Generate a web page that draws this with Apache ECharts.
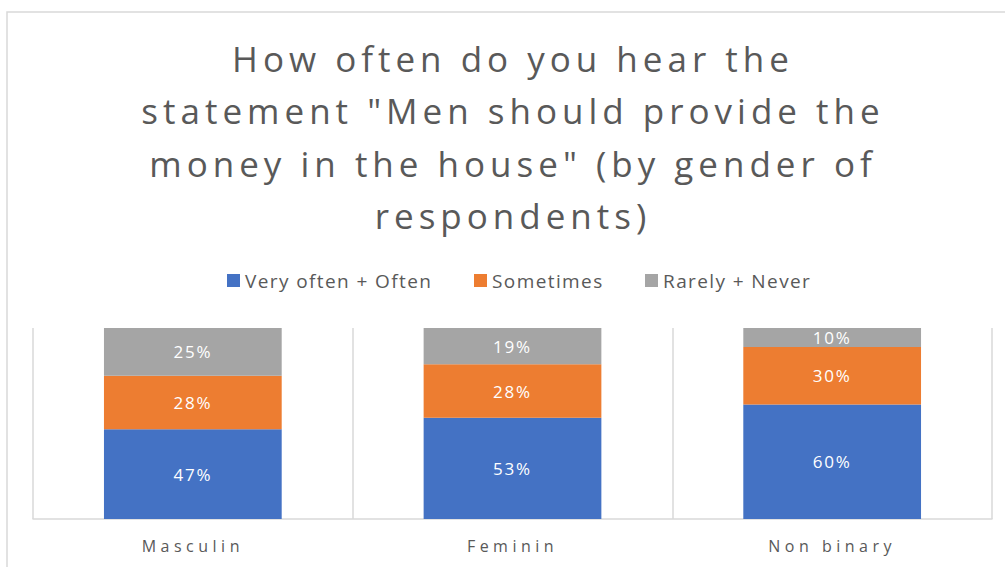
<!DOCTYPE html>
<html>
<head>
<meta charset="utf-8">
<script src="https://cdn.jsdelivr.net/npm/echarts@6/dist/echarts.min.js"></script>
<style>
  html, body { margin: 0; padding: 0; background: #ffffff; }
  #chart { width: 1005px; height: 567px; }
  /* tracking for the wide geometric look of the labels */
  #chart text { letter-spacing: 1.8px; }
  #chart text[style*="35px"] { letter-spacing: 5px; }
  #chart text[style*="16px"] { letter-spacing: 4.5px; }
  #chart text[style*="19px"] { letter-spacing: 1.4px; }
</style>
</head>
<body>
<div id="chart"></div>
<script>
// Categories: gender of respondents
const categories = ['Masculin', 'Feminin', 'Non binary'];
// Share of answers per gender (%)
const veryOftenOften = [47, 53, 60];
const sometimes = [28, 28, 30];
const rarelyNever = [25, 19, 10];
const seriesNames = ['Very often + Often', 'Sometimes', 'Rarely + Never'];
const seriesColors = ['#4472c4', '#ed7d31', '#a5a5a5'];
const seriesValues = [veryOftenOften, sometimes, rarelyNever];

const FONT = 'Open Sans';
const TEXT = '#595959';

const chart = echarts.init(document.getElementById('chart'), null, { renderer: 'svg' });

const legendLeft = [222, 469, 640];

chart.setOption({
  backgroundColor: '#ffffff',
  animation: false,
  graphic: [{
    type: 'rect',
    shape: { x: 7, y: 12, width: 1020, height: 600 },
    style: { fill: 'none', stroke: '#d9d9d9', lineWidth: 1.5 },
    silent: true
  }],
  title: {
    text: 'How often do you hear the\nstatement "Men should provide the\nmoney in the house" (by gender of\nrespondents)',
    left: 508,
    textAlign: 'center',
    top: 27,
    textStyle: {
      fontFamily: FONT,
      fontSize: 35,
      fontWeight: 'normal',
      color: TEXT,
      lineHeight: 52.5
    }
  },
  legend: seriesNames.map((name, i) => ({
    data: [name],
    left: legendLeft[i],
    top: 266,
    icon: 'rect',
    itemWidth: 13,
    itemHeight: 13,
    selectedMode: false,
    textStyle: { fontFamily: FONT, fontSize: 19, color: TEXT }
  })),
  grid: { left: 33, right: 13, top: 328, bottom: 48 },
  xAxis: {
    type: 'category',
    data: categories,
    axisLine: { lineStyle: { color: '#d9d9d9', width: 1.5 } },
    axisTick: { show: false },
    splitLine: { show: true, interval: 0, lineStyle: { color: '#d9d9d9', width: 1.5 } },
    axisLabel: { fontFamily: FONT, fontSize: 16, color: TEXT, margin: 19 }
  },
  yAxis: {
    type: 'value',
    min: 0,
    max: 100,
    show: false,
    splitLine: { show: false }
  },
  series: seriesNames.map((name, i) => ({
    name: name,
    type: 'bar',
    stack: 'total',
    barWidth: '55.6%',
    data: seriesValues[i],
    itemStyle: { color: seriesColors[i] },
    label: {
      show: true,
      position: 'inside',
      formatter: '{c}%',
      fontFamily: FONT,
      fontSize: 17,
      color: '#ffffff'
    }
  }))
});
</script>
</body>
</html>
